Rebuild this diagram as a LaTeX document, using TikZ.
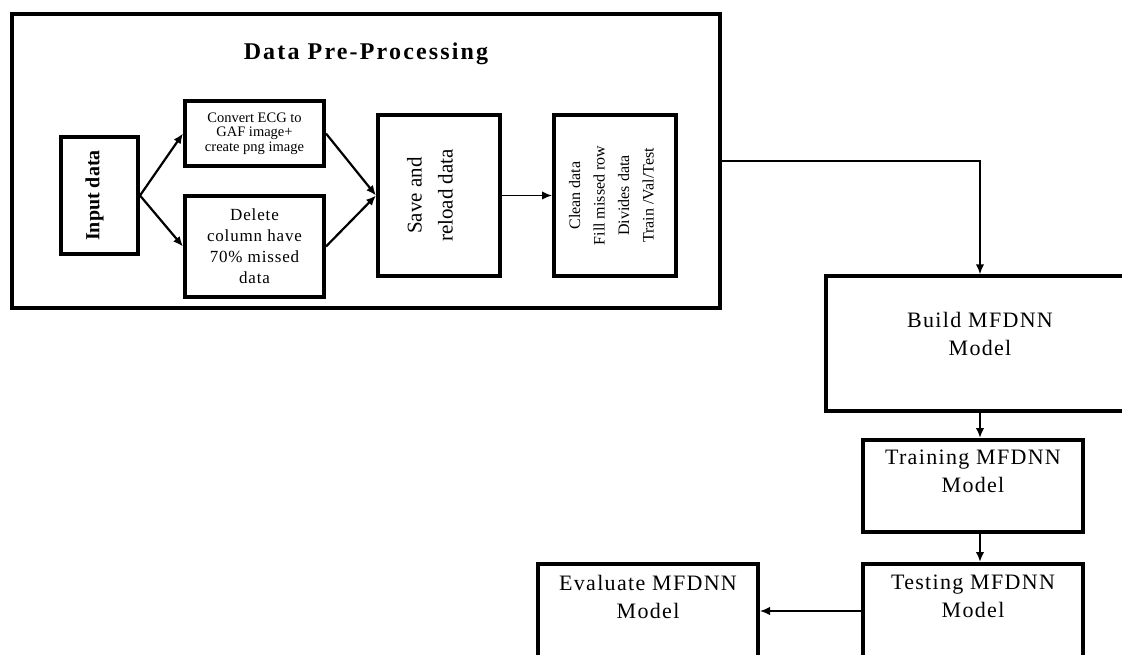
\documentclass[tikz,border=0pt]{standalone}
\usepackage{fontspec}
\setmainfont{Liberation Serif}
\usetikzlibrary{arrows.meta, positioning}

\begin{document}
\begin{tikzpicture}[
    x=1pt, y=-1pt,
    box/.style={rectangle, draw, line width=4pt, align=center, inner sep=0pt},
    stage/.style={box, minimum width=220pt},
    stagetext/.style={anchor=north, inner sep=0pt, align=center, font=\fontsize{22}{28}\selectfont\addfontfeature{LetterSpace=6}},
    sidetext/.style={rotate=90, inner sep=0pt, align=center},
    link/.style={-{Latex[length=10pt, width=8.5pt]}, line width=2.2pt},
    thinlink/.style={-{Latex[length=10pt, width=8.5pt]}, line width=1.6pt}
]

\useasboundingbox (0,0) rectangle (1122,654);
\clip (0,0) rectangle (1122,654);

% Pre-processing frame
\node[box, line width=3.3pt, minimum width=708pt, minimum height=294pt,
      label={[anchor=north, yshift=-30pt, inner sep=0pt, font=\bfseries\fontsize{24}{28}\selectfont\addfontfeature{LetterSpace=9}]north:Data Pre-Processing}]
      (prep) at (366,161) {};

% Steps inside the frame
\node[box, minimum width=77pt, minimum height=117pt,
      label={[xshift=-5pt, sidetext, font=\bfseries\fontsize{20}{24}\selectfont]center:Input data}]
      (input) at (99.5,195.5) {};
\node[box, minimum width=139pt, minimum height=65pt, font=\fontsize{14.5}{14.5}\selectfont]
      (convert) at (254.5,133.5) {Convert ECG to\\GAF image+\\create png image};
\node[box, minimum width=139pt, minimum height=101pt, node distance=113pt, below of=convert,
      font=\fontsize{17}{21}\selectfont\addfontfeature{LetterSpace=5}]
      (delete) {Delete\\column have\\70\% missed\\data};
\node[box, minimum width=122pt, minimum height=161pt,
      label={[xshift=-9pt, sidetext, font=\fontsize{21}{31}\selectfont]center:Save and\\reload data}]
      (save) at (439,195.5) {};
\node[box, minimum width=122pt, minimum height=161pt, node distance=176pt, right of=save,
      label={[xshift=-3.5pt, sidetext, font=\fontsize{16}{24.5}\selectfont]center:Clean data\\Fill missed row\\Divides data\\Train /Val/Test}]
      (clean) {};

% Model stages
\node[stage, line width=3.5pt, minimum width=308pt, minimum height=135pt,
      label={[stagetext, yshift=-38pt]north:Build MFDNN\\Model}]
      (build) at (980,343.5) {};
\node[stage, minimum height=92pt,
      label={[stagetext, yshift=-12pt]north:Training MFDNN\\Model}]
      (training) at (973,486) {};
\node[stage, minimum height=94pt, node distance=125pt, below of=training,
      label={[stagetext, yshift=-13pt]north:Testing MFDNN\\Model}]
      (testing) {};
\node[stage, minimum height=95pt, node distance=325pt, left of=testing,
      label={[stagetext, yshift=-14pt]north:Evaluate MFDNN\\Model}]
      (evaluate) {};

% Arrows
\draw[link] (input.east) -- (convert.west);
\draw[link] (input.east) -- (delete.west);
\draw[link] (convert.east) -- (save.west);
\draw[link] (delete.east) -- (save.west);
\draw[thinlink] (save) -- (clean);
\draw[thinlink] (prep.east) -| (build.north);
\draw[link] (build.south) -- (build.south |- training.north);
\draw[link] (training.south -| build.south) -- (testing.north -| build.south);
\draw[thinlink] (testing.west) -- (evaluate.east);

\end{tikzpicture}
\end{document}
